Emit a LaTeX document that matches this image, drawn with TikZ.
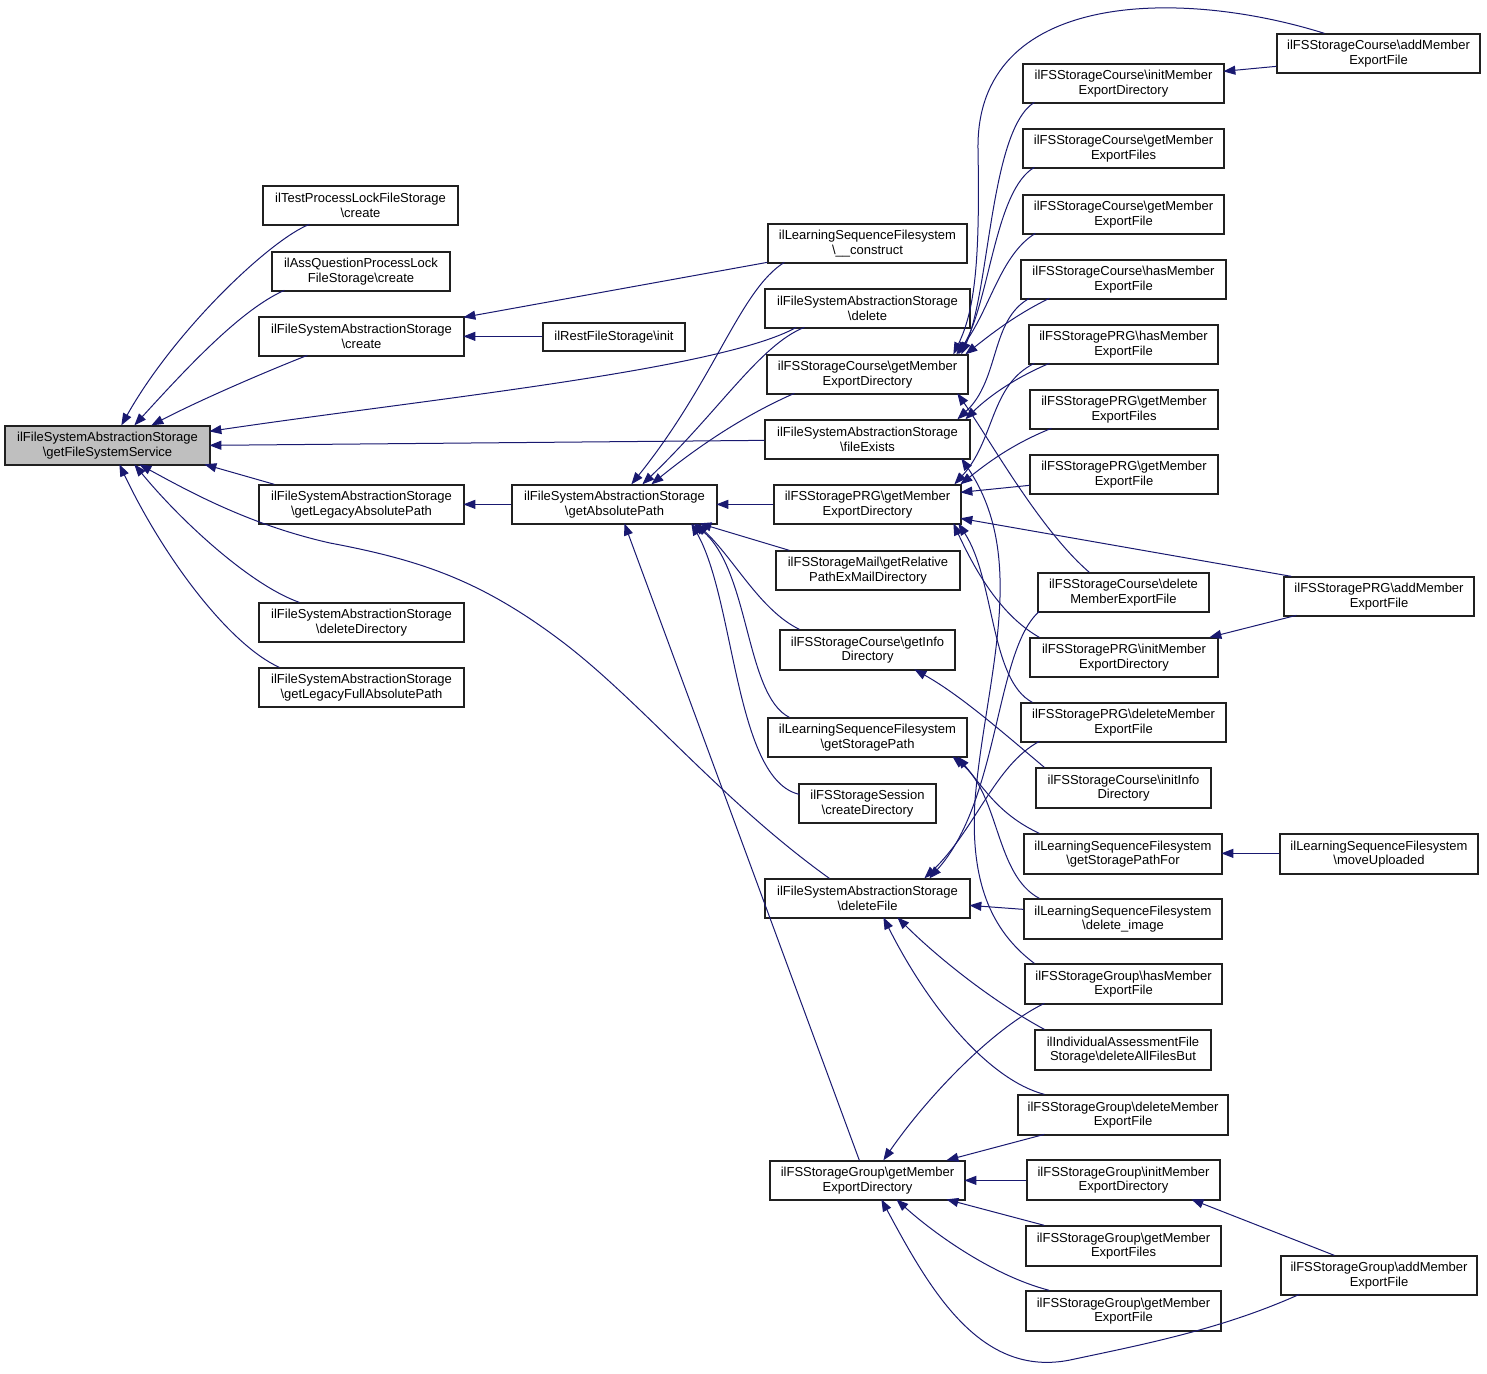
\documentclass[tikz,border=0pt]{standalone}
\usepackage{fontspec}
\setmainfont{Liberation Sans}
\usetikzlibrary{arrows.meta,calc}
\definecolor{edgec}{HTML}{191970}
\definecolor{rootfill}{HTML}{BFBFBF}
\definecolor{boxline}{HTML}{202020}
\tikzset{
  box/.style={draw=boxline, line width=1.3pt, inner sep=0pt, align=center, fill=white,
    font=\fontsize{13}{14.5}\selectfont},
  edg/.style={draw=edgec, line width=1pt, -{Triangle[length=12pt,width=9pt]}},
}
\newcommand\nd[7][]{\node[box,#1,minimum width={(#4-#2)*1pt},minimum height={(#5-#3)*1pt}] (#6) at ({(#2+#4)/2},{(#3+#5)/2}) {#7};}
\begin{document}
\begin{tikzpicture}[x=1pt,y=-1pt]
\useasboundingbox (0,0) rectangle (1487,1373);
% nodes
\nd[fill=rootfill]{5}{426}{210}{465}{n1}{ilFileSystemAbstractionStorage\\\textbackslash getFileSystemService}
\nd{263}{186}{458}{225}{n2}{ilTestProcessLockFileStorage\\\textbackslash create}
\nd{272}{252}{450}{291}{n3}{ilAssQuestionProcessLock\\FileStorage\textbackslash create}
\nd{259}{317}{464}{356}{n4}{ilFileSystemAbstractionStorage\\\textbackslash create}
\nd{259}{485}{464}{524}{n5}{ilFileSystemAbstractionStorage\\\textbackslash getLegacyAbsolutePath}
\nd{259}{603}{464}{642}{n6}{ilFileSystemAbstractionStorage\\\textbackslash deleteDirectory}
\nd{259}{668}{464}{707}{n7}{ilFileSystemAbstractionStorage\\\textbackslash getLegacyFullAbsolutePath}
\nd{543}{323}{685}{351}{n8}{ilRestFileStorage\textbackslash init}
\nd{512}{485}{717}{524}{n9}{ilFileSystemAbstractionStorage\\\textbackslash getAbsolutePath}
\nd{768}{224}{967}{263}{n10}{ilLearningSequenceFilesystem\\\textbackslash\_\_construct}
\nd{765}{289}{970}{328}{n11}{ilFileSystemAbstractionStorage\\\textbackslash delete}
\nd{767}{355}{968}{394}{n12}{ilFSStorageCourse\textbackslash getMember\\ExportDirectory}
\nd{765}{420}{970}{459}{n13}{ilFileSystemAbstractionStorage\\\textbackslash fileExists}
\nd{774}{485}{961}{524}{n14}{ilFSStoragePRG\textbackslash getMember\\ExportDirectory}
\nd{776}{551}{960}{590}{n15}{ilFSStorageMail\textbackslash getRelative\\PathExMailDirectory}
\nd{780}{630}{955}{670}{n16}{ilFSStorageCourse\textbackslash getInfo\\Directory}
\nd{768}{718}{967}{757}{n17}{ilLearningSequenceFilesystem\\\textbackslash getStoragePath}
\nd{799}{784}{936}{823}{n18}{ilFSStorageSession\\\textbackslash createDirectory}
\nd{765}{879}{970}{918}{n19}{ilFileSystemAbstractionStorage\\\textbackslash deleteFile}
\nd{770}{1161}{965}{1200}{n20}{ilFSStorageGroup\textbackslash getMember\\ExportDirectory}
\nd{1023}{64}{1224}{103}{n21}{ilFSStorageCourse\textbackslash initMember\\ExportDirectory}
\nd{1023}{129}{1224}{168}{n22}{ilFSStorageCourse\textbackslash getMember\\ExportFiles}
\nd{1023}{195}{1224}{234}{n23}{ilFSStorageCourse\textbackslash getMember\\ExportFile}
\nd{1021}{260}{1226}{299}{n24}{ilFSStorageCourse\textbackslash hasMember\\ExportFile}
\nd{1029}{325}{1218}{364}{n25}{ilFSStoragePRG\textbackslash hasMember\\ExportFile}
\nd{1030}{390}{1218}{429}{n26}{ilFSStoragePRG\textbackslash getMember\\ExportFiles}
\nd{1030}{455}{1218}{494}{n27}{ilFSStoragePRG\textbackslash getMember\\ExportFile}
\nd{1038}{573}{1209}{612}{n28}{ilFSStorageCourse\textbackslash delete\\MemberExportFile}
\nd{1030}{638}{1218}{677}{n29}{ilFSStoragePRG\textbackslash initMember\\ExportDirectory}
\nd{1021}{703}{1226}{742}{n30}{ilFSStoragePRG\textbackslash deleteMember\\ExportFile}
\nd{1036}{768}{1211}{808}{n31}{ilFSStorageCourse\textbackslash initInfo\\Directory}
\nd{1024}{834}{1222}{874}{n32}{ilLearningSequenceFilesystem\\\textbackslash getStoragePathFor}
\nd{1024}{899}{1222}{939}{n33}{ilLearningSequenceFilesystem\\\textbackslash delete\_image}
\nd{1025}{964}{1222}{1004}{n34}{ilFSStorageGroup\textbackslash hasMember\\ExportFile}
\nd{1035}{1030}{1211}{1070}{n35}{ilIndividualAssessmentFile\\Storage\textbackslash deleteAllFilesBut}
\nd{1018}{1095}{1228}{1135}{n36}{ilFSStorageGroup\textbackslash deleteMember\\ExportFile}
\nd{1027}{1160}{1220}{1200}{n37}{ilFSStorageGroup\textbackslash initMember\\ExportDirectory}
\nd{1026}{1226}{1221}{1266}{n38}{ilFSStorageGroup\textbackslash getMember\\ExportFiles}
\nd{1026}{1291}{1221}{1331}{n39}{ilFSStorageGroup\textbackslash getMember\\ExportFile}
\nd{1277}{34}{1480}{73}{n40}{ilFSStorageCourse\textbackslash addMember\\ExportFile}
\nd{1284}{577}{1474}{616}{n41}{ilFSStoragePRG\textbackslash addMember\\ExportFile}
\nd{1280}{834}{1478}{874}{n42}{ilLearningSequenceFilesystem\\\textbackslash moveUploaded}
\nd{1281}{1256}{1477}{1295}{n43}{ilFSStorageGroup\textbackslash addMember\\ExportFile}
% edges into root
\draw[edg] ($(n2.north west)+(47,39)$) .. controls (270,240) and (175,330) .. ($(n1.north west)+(117,0)$);
\draw[edg] ($(n3.north west)+(13,39)$) .. controls (240,310) and (185,370) .. ($(n1.north west)+(130,0)$);
\draw[edg] ($(n4.north west)+(49,39)$) .. controls (265,372) and (200,400) .. ($(n1.north west)+(147,0)$);
\draw[edg] ($(n11.north west)+(32,39)$) .. controls (720,370) and (420,400) .. ($(n1.north west)+(205,6)$);
\draw[edg] ($(n13.north west)+(0,21)$) -- ($(n1.north west)+(205,20)$);
\draw[edg] ($(n5.north west)+(16,0)$) -- ($(n1.north west)+(200,39)$);
\draw[edg] ($(n6.north west)+(41,0)$) .. controls (250,585) and (180,520) .. ($(n1.north west)+(130,39)$);
\draw[edg] ($(n7.north west)+(21,0)$) .. controls (230,645) and (165,560) .. ($(n1.north west)+(115,39)$);
\draw[edg] ($(n19.north west)+(65,0)$) .. controls (720,800) and (640,700) .. (560,640)
  .. controls (480,580) and (420,560) .. (330,543) .. controls (250,525) and (190,492) .. ($(n1.north west)+(135,39)$);
% edges into n4, n5
\draw[edg] ($(n10.north west)+(0,39)$) -- ($(n4.north west)+(205,1)$);
\draw[edg] ($(n8.north west)+(0,14)$) -- ($(n4.north west)+(205,20)$);
\draw[edg] ($(n9.north west)+(0,20)$) -- ($(n5.north west)+(205,20)$);
% edges into n9
\draw[edg] ($(n10.north west)+(17,39)$) .. controls (740,290) and (715,380) .. ($(n9.north west)+(120,0)$);
\draw[edg] ($(n11.north west)+(40,39)$) .. controls (760,345) and (720,410) .. ($(n9.north west)+(131,0)$);
\draw[edg] ($(n12.north west)+(28,39)$) .. controls (745,415) and (700,445) .. ($(n9.north west)+(140,0)$);
\draw[edg] ($(n14.north west)+(0,20)$) -- ($(n9.north west)+(205,20)$);
\draw[edg] ($(n15.north west)+(14,0)$) -- ($(n9.north west)+(188,39)$);
\draw[edg] ($(n16.north west)+(20,0)$) .. controls (760,610) and (735,560) .. ($(n9.north west)+(185,39)$);
\draw[edg] ($(n17.north west)+(22,0)$) .. controls (745,695) and (750,570) .. ($(n9.north west)+(182,39)$);
\draw[edg] ($(n18.north west)+(1,11)$) .. controls (735,780) and (735,600) .. ($(n9.north west)+(180,39)$);
\draw[edg] ($(n20.north west)+(90,0)$) -- ($(n9.north west)+(113,39)$);
% edges into n12
\draw[edg] ($(n21.north west)+(12,39)$) .. controls (990,130) and (990,290) .. ($(n12.north west)+(195,0)$);
\draw[edg] ($(n22.north west)+(12,39)$) .. controls (995,190) and (990,300) .. ($(n12.north west)+(192,0)$);
\draw[edg] ($(n23.north west)+(13,39)$) .. controls (1000,255) and (990,310) .. ($(n12.north west)+(190,0)$);
\draw[edg] ($(n24.north west)+(29,39)$) .. controls (1015,315) and (990,335) .. ($(n12.north west)+(199,0)$);
\draw[edg] ($(n40.north west)+(48,0)$) .. controls (1180,-12) and (975,-10) .. (978,150) .. controls (980,260) and (975,310) .. ($(n12.north west)+(187,0)$);
\draw[edg] ($(n28.north west)+(52,0)$) .. controls (1040,530) and (990,440) .. ($(n12.north west)+(191,39)$);
% edges into n13
\draw[edg] ($(n24.north west)+(9,39)$) .. controls (990,320) and (1000,380) .. ($(n13.north west)+(193,0)$);
\draw[edg] ($(n25.north west)+(21,39)$) .. controls (1010,380) and (985,400) .. ($(n13.north west)+(201,0)$);
\draw[edg] ($(n34.north west)+(10,0)$) .. controls (990,930) and (970,880) .. (975,800) .. controls (985,680) and (1030,560) .. ($(n13.north west)+(197,39)$);
% edges into n14
\draw[edg] ($(n25.north west)+(6,39)$) .. controls (990,385) and (995,440) .. ($(n14.north west)+(181,0)$);
\draw[edg] ($(n26.north west)+(22,39)$) .. controls (1010,445) and (985,465) .. ($(n14.north west)+(187,0)$);
\draw[edg] ($(n27.north west)+(0,31)$) -- ($(n14.north west)+(187,8)$);
\draw[edg] ($(n41.north west)+(8,0)$) -- ($(n14.north west)+(187,34)$);
\draw[edg] ($(n29.north west)+(10,0)$) .. controls (1000,615) and (975,570) .. ($(n14.north west)+(180,39)$);
\draw[edg] ($(n30.north west)+(12,0)$) .. controls (990,680) and (995,580) .. ($(n14.north west)+(185,39)$);
% edges into n16, n17
\draw[edg] ($(n31.north west)+(9,0)$) .. controls (1000,730) and (960,695) .. ($(n16.north west)+(135,40)$);
\draw[edg] ($(n32.north west)+(16,0)$) .. controls (1000,815) and (985,790) .. ($(n17.north west)+(190,39)$);
\draw[edg] ($(n33.north west)+(16,0)$) .. controls (995,875) and (1000,795) .. ($(n17.north west)+(185,39)$);
% edges into n19
\draw[edg] ($(n28.north west)+(2,39)$) .. controls (995,650) and (1000,800) .. ($(n19.north west)+(165,0)$);
\draw[edg] ($(n30.north west)+(19,39)$) .. controls (995,765) and (975,830) .. ($(n19.north west)+(160,0)$);
\draw[edg] ($(n33.north west)+(0,11)$) -- ($(n19.north west)+(205,27)$);
\draw[edg] ($(n35.north west)+(10,0)$) .. controls (990,1000) and (935,955) .. ($(n19.north west)+(133,39)$);
\draw[edg] ($(n36.north west)+(27,0)$) .. controls (990,1080) and (930,1010) .. ($(n19.north west)+(119,39)$);
% edges into n20
\draw[edg] ($(n34.north west)+(20,40)$) .. controls (990,1030) and (925,1100) .. ($(n20.north west)+(114,0)$);
\draw[edg] ($(n36.north west)+(27,40)$) -- ($(n20.north west)+(177,0)$);
\draw[edg] ($(n37.north west)+(0,21)$) -- ($(n20.north west)+(195,20)$);
\draw[edg] ($(n38.north west)+(19,0)$) -- ($(n20.north west)+(177,39)$);
\draw[edg] ($(n39.north west)+(24,0)$) .. controls (990,1275) and (930,1230) .. ($(n20.north west)+(127,39)$);
\draw[edg] ($(n43.north west)+(19,39)$) .. controls (1220,1330) and (1140,1345) .. (1070,1360) .. controls (980,1378) and (930,1290) .. ($(n20.north west)+(112,39)$);
% right column edges
\draw[edg] ($(n40.north west)+(0,33)$) -- ($(n21.north west)+(201,8)$);
\draw[edg] ($(n41.north west)+(13,39)$) -- ($(n29.north west)+(180,0)$);
\draw[edg] ($(n43.north west)+(54,0)$) -- ($(n37.north west)+(165,40)$);
\draw[edg] ($(n42.north west)+(0,20)$) -- ($(n32.north west)+(198,20)$);
\end{tikzpicture}
\end{document}
